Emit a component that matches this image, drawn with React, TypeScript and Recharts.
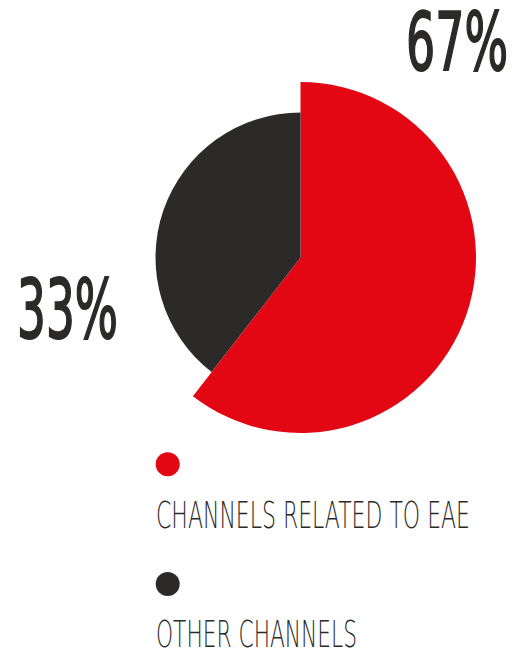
import React from "react";
import { PieChart, Pie, Cell, Legend } from "recharts";

const categories = ["CHANNELS RELATED TO EAE", "OTHER CHANNELS"];
const shares = [60.5, 39.5];
const percentLabels = ["67%", "33%"];
const colors = ["#E30613", "#2B2A29"];
const radii = [175.5, 145];

const data = categories.map((name, i) => ({ name, value: shares[i] }));

const LegendContent = () => (
  <svg width={340} height={205} style={{ display: "block", overflow: "visible" }}>
    {categories.map((c, i) => (
      <g key={c}>
        <circle cx={17.7} cy={14.3 + i * 119.7} r={12} fill={colors[i]} />
        <text
          x={6}
          y={78 + i * 119}
          fontFamily="DejaVu Sans"
          fontWeight={200}
          fontSize={38}
          fill="#2B2A29"
          textLength={i === 0 ? 314 : 201}
          lengthAdjust="spacingAndGlyphs"
        >
          {c}
        </text>
      </g>
    ))}
  </svg>
);

export default function App() {
  return (
    <div style={{ position: "absolute", left: 0, top: 0 }}>
      <PieChart width={516} height={653} margin={{ top: 0, right: 0, bottom: 0, left: 0 }}>
        {colors.map((col, k) => (
          <Pie
            key={k}
            data={data}
            dataKey="value"
            nameKey="name"
            cx={300.5}
            cy={257.5}
            innerRadius={0}
            outerRadius={radii[k]}
            startAngle={90}
            endAngle={-270}
            stroke="none"
            isAnimationActive={false}
          >
            {data.map((d, i) => (
              <Cell key={d.name} fill={i === k ? colors[i] : "transparent"} />
            ))}
          </Pie>
        ))}
        <text
          x={406}
          y={70}
          fontFamily="DejaVu Sans"
          fontSize={80}
          fill="#2B2A29"
          stroke="#2B2A29"
          strokeWidth={2}
          textLength={102}
          lengthAdjust="spacingAndGlyphs"
        >
          {percentLabels[0]}
        </text>
        <text
          x={17}
          y={338}
          fontFamily="DejaVu Sans"
          fontSize={82}
          fill="#2B2A29"
          stroke="#2B2A29"
          strokeWidth={2}
          textLength={101}
          lengthAdjust="spacingAndGlyphs"
        >
          {percentLabels[1]}
        </text>
        <Legend
          content={<LegendContent />}
          wrapperStyle={{ position: "absolute", left: 150, top: 450, width: 340, height: 205 }}
        />
      </PieChart>
    </div>
  );
}
